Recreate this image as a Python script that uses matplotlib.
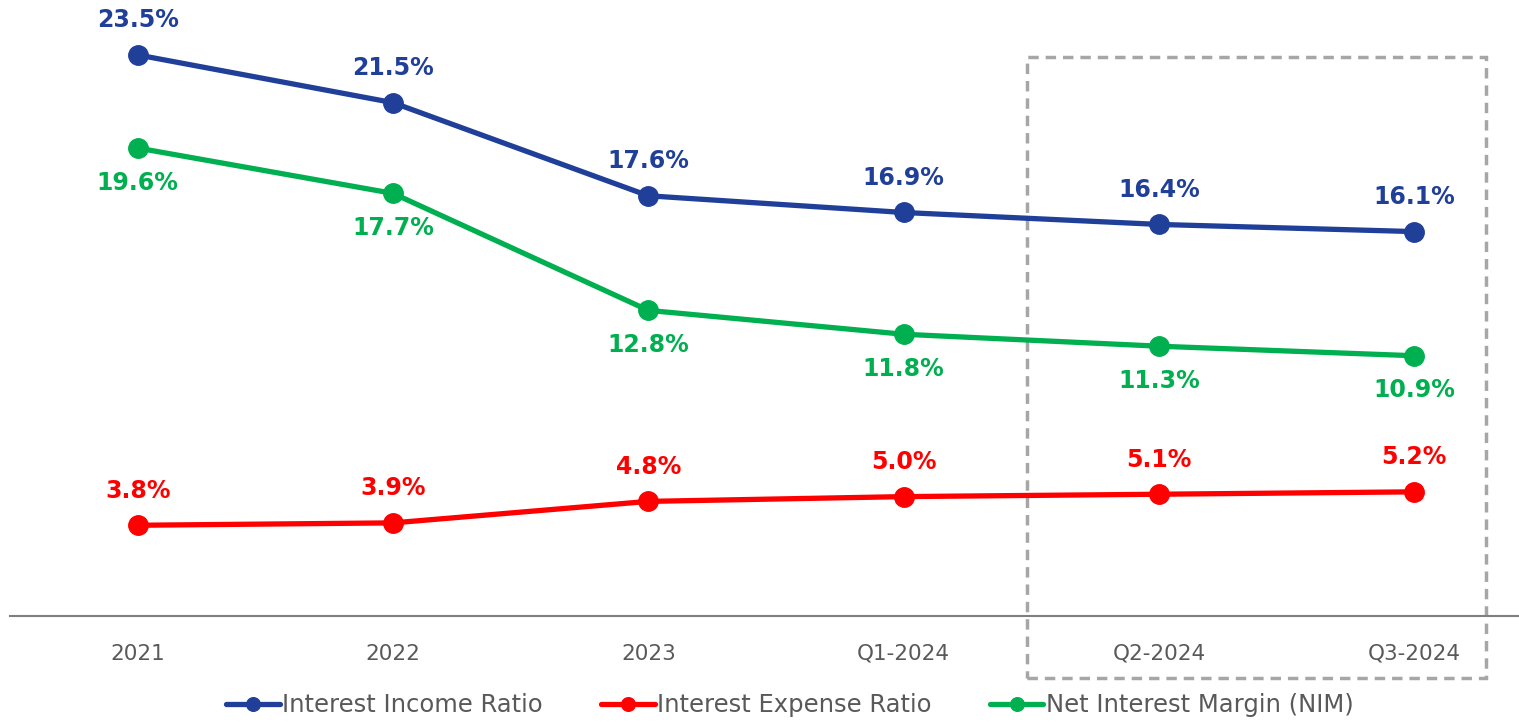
import matplotlib.pyplot as plt
from matplotlib.patches import Rectangle
from matplotlib.transforms import blended_transform_factory

periods = ["2021", "2022", "2023", "Q1-2024", "Q2-2024", "Q3-2024"]
income_ratio = [23.5, 21.5, 17.6, 16.9, 16.4, 16.1]
expense_ratio = [3.8, 3.9, 4.8, 5.0, 5.1, 5.2]
nim = [19.6, 17.7, 12.8, 11.8, 11.3, 10.9]

blue = "#203F99"
red = "#FF0000"
green = "#00B050"

fig = plt.figure(figsize=(15.19, 7.23), dpi=100)
ax = fig.add_axes([0.0066, 0.148, 0.9934, 0.852])

x = list(range(len(periods)))
series = [
    (income_ratio, blue, "Interest Income Ratio", 1),
    (expense_ratio, red, "Interest Expense Ratio", 1),
    (nim, green, "Net Interest Margin (NIM)", -1),
]
for vals, col, name, side in series:
    ax.plot(x, vals, color=col, lw=3.8, marker="o", ms=14, label=name,
            solid_capstyle="round")
    for xi, v in zip(x, vals):
        ax.annotate(f"{v:.1f}%", (xi, v), xytext=(0, 25 * side), textcoords="offset points",
                    ha="center", va="center", color=col, fontsize=17, fontweight="bold")

ax.set_xlim(-0.5, 5.41)
ax.set_ylim(0, 25.8)
ax.set_yticks([])
for s in ["top", "right", "left"]:
    ax.spines[s].set_visible(False)
ax.spines["bottom"].set_color("#7F7F7F")
ax.spines["bottom"].set_linewidth(1.5)
ax.set_xticks(x)
ax.set_xticklabels(periods, fontsize=15.5, color="#595959")
ax.tick_params(axis="x", length=0, pad=20)

# highlight box around latest quarters
tr = blended_transform_factory(ax.transData, ax.transAxes)
box = Rectangle((3.485, -0.10), 1.795, 1.007, transform=tr, fill=False,
                edgecolor="#A6A6A6", lw=2.5, ls=(0, (3, 2)), clip_on=False)
ax.add_patch(box)

fig.legend(loc="lower center", bbox_to_anchor=(0.52, -0.022), ncol=3, frameon=False,
           fontsize=17.5, handlelength=2.2, handletextpad=0.1, columnspacing=2.4,
           markerscale=0.7, labelcolor="#595959")

fig.savefig("out.png", dpi=100)
